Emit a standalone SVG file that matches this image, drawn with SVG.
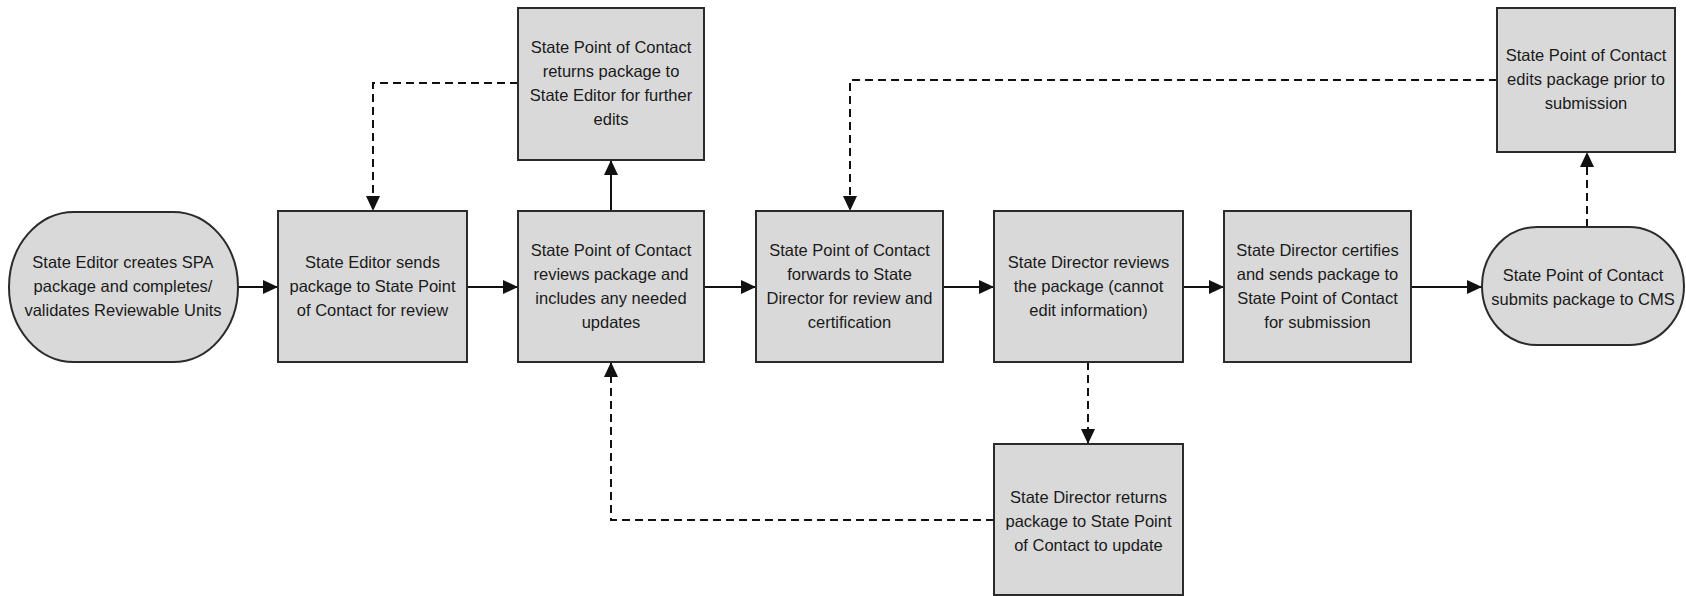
<svg xmlns="http://www.w3.org/2000/svg" width="1686" height="596" viewBox="0 0 1686 596">
  <defs>
    <marker id="arr" viewBox="0 0 15 14" refX="15" refY="7" markerWidth="15" markerHeight="14" markerUnits="userSpaceOnUse" orient="auto">
      <path d="M0,0 L15,7 L0,14 Z" fill="#111"/>
    </marker>
    <style>
      .box { fill: #d9d9d9; stroke: #2b2b2b; stroke-width: 2; }
      .lbl { font-family: "Liberation Sans", Arial, sans-serif; font-size: 16.5px; fill: #1a1a1a; text-anchor: middle; }
      .solid { fill: none; stroke: #111; stroke-width: 2; }
      .dash { fill: none; stroke: #111; stroke-width: 2; stroke-dasharray: 8 5; }
    </style>
  </defs>
  <rect width="1686" height="596" fill="#ffffff"/>

  <g id="connectors">
    <path class="solid" d="M238,287 H278" marker-end="url(#arr)"/>
    <path class="solid" d="M467,287 H518" marker-end="url(#arr)"/>
    <path class="solid" d="M704,287 H756" marker-end="url(#arr)"/>
    <path class="solid" d="M943,287 H994" marker-end="url(#arr)"/>
    <path class="solid" d="M1183,287 H1224" marker-end="url(#arr)"/>
    <path class="solid" d="M1411,287 H1482" marker-end="url(#arr)"/>
    <path class="solid" d="M611,211 V160" marker-end="url(#arr)"/>
    <path class="dash" d="M518,83 H373 V211" marker-end="url(#arr)"/>
    <path class="dash" d="M1497,80 H850 V211" marker-end="url(#arr)"/>
    <path class="dash" d="M1587,227 V152" marker-end="url(#arr)"/>
    <path class="dash" d="M1088,362 V444" marker-end="url(#arr)"/>
    <path class="dash" d="M994,520 H611 V362" marker-end="url(#arr)"/>
  </g>

  <g id="start">
    <rect class="box" x="9" y="212" width="229" height="150" rx="65" ry="75"/>
    <text class="lbl"><tspan x="123" y="268">State Editor creates SPA</tspan><tspan x="123" y="292">package and completes/</tspan><tspan x="123" y="316">validates Reviewable Units</tspan></text>
  </g>

  <g id="sendToPoc">
    <rect class="box" x="278" y="211" width="189" height="151"/>
    <text class="lbl"><tspan x="372.5" y="268">State Editor sends</tspan><tspan x="372.5" y="292">package to State Point</tspan><tspan x="372.5" y="316">of Contact for review</tspan></text>
  </g>

  <g id="pocReviews">
    <rect class="box" x="518" y="211" width="186" height="151"/>
    <text class="lbl"><tspan x="611" y="256">State Point of Contact</tspan><tspan x="611" y="280">reviews package and</tspan><tspan x="611" y="304">includes any needed</tspan><tspan x="611" y="328">updates</tspan></text>
  </g>

  <g id="pocReturns">
    <rect class="box" x="518" y="8" width="186" height="152"/>
    <text class="lbl"><tspan x="611" y="53">State Point of Contact</tspan><tspan x="611" y="77">returns package to</tspan><tspan x="611" y="101">State Editor for further</tspan><tspan x="611" y="125">edits</tspan></text>
  </g>

  <g id="pocForwards">
    <rect class="box" x="756" y="211" width="187" height="151"/>
    <text class="lbl"><tspan x="849.5" y="256">State Point of Contact</tspan><tspan x="849.5" y="280">forwards to State</tspan><tspan x="849.5" y="304">Director for review and</tspan><tspan x="849.5" y="328">certification</tspan></text>
  </g>

  <g id="directorReviews">
    <rect class="box" x="994" y="211" width="189" height="151"/>
    <text class="lbl"><tspan x="1088.5" y="268">State Director reviews</tspan><tspan x="1088.5" y="292">the package (cannot</tspan><tspan x="1088.5" y="316">edit information)</tspan></text>
  </g>

  <g id="directorReturns">
    <rect class="box" x="994" y="444" width="189" height="151"/>
    <text class="lbl"><tspan x="1088.5" y="503">State Director returns</tspan><tspan x="1088.5" y="527">package to State Point</tspan><tspan x="1088.5" y="551">of Contact to update</tspan></text>
  </g>

  <g id="directorCertifies">
    <rect class="box" x="1224" y="211" width="187" height="151"/>
    <text class="lbl"><tspan x="1317.5" y="256">State Director certifies</tspan><tspan x="1317.5" y="280">and sends package to</tspan><tspan x="1317.5" y="304">State Point of Contact</tspan><tspan x="1317.5" y="328">for submission</tspan></text>
  </g>

  <g id="pocEdits">
    <rect class="box" x="1497" y="8" width="178" height="144"/>
    <text class="lbl"><tspan x="1586" y="61">State Point of Contact</tspan><tspan x="1586" y="85">edits package prior to</tspan><tspan x="1586" y="109">submission</tspan></text>
  </g>

  <g id="submit">
    <rect class="box" x="1482" y="227" width="202" height="118" rx="55" ry="59"/>
    <text class="lbl"><tspan x="1583" y="281">State Point of Contact</tspan><tspan x="1583" y="305">submits package to CMS</tspan></text>
  </g>
</svg>
